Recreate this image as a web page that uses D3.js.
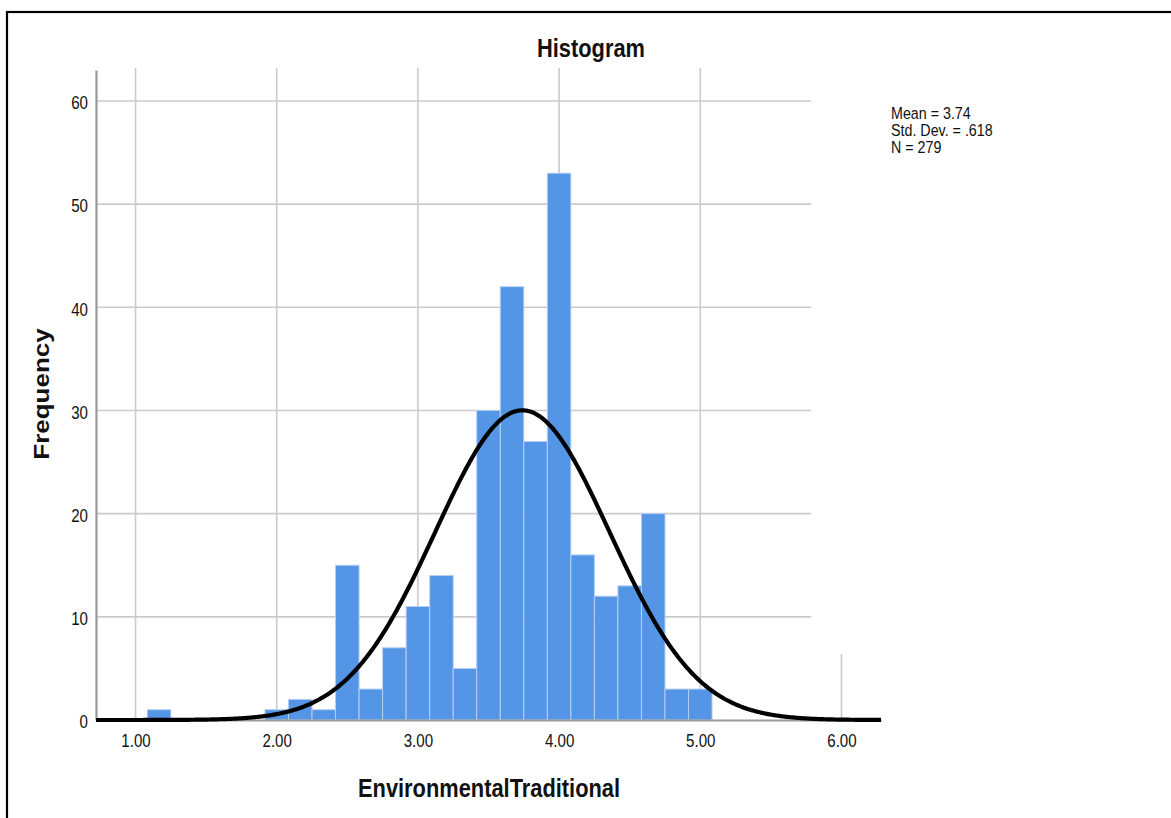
<!DOCTYPE html>
<html>
<head>
<meta charset="utf-8">
<script src="https://d3js.org/d3.v7.min.js"></script>
<title>Histogram</title>
<style>
  body { margin: 0; background: #fff; }
  svg text { font-family: "Liberation Sans", Arial, sans-serif; fill: #111; }
</style>
</head>
<body>
<div id="chart"></div>
<script>
// bin centres (bin width 1/6) and frequencies
var binMids = [1.1667, 2.0, 2.1667, 2.3333, 2.5, 2.6667, 2.8333, 3.0, 3.1667, 3.3333,
               3.5, 3.6667, 3.8333, 4.0, 4.1667, 4.3333, 4.5, 4.6667, 4.8333, 5.0];
var counts  = [1, 1, 2, 1, 15, 3, 7, 11, 14, 5,
               30, 42, 27, 53, 16, 12, 13, 20, 3, 3];
var binWidth = 1 / 6;

// summary stats shown in the legend
var statMean = 3.74, statSd = 0.618, statN = 279;
var statLines = ["Mean = 3.74", "Std. Dev. = .618", "N = 279"];

var xTicks = [1, 2, 3, 4, 5, 6];
var yTicks = [0, 10, 20, 30, 40, 50, 60];

var W = 1171, H = 818;
var sx = 0.84; // the source picture is squeezed sideways a bit

var svg = d3.select("#chart").append("svg")
  .attr("width", W)
  .attr("height", H);

// outer frame
svg.append("rect")
  .attr("x", 7).attr("y", 12)
  .attr("width", 1300).attr("height", 1000)
  .attr("fill", "none")
  .attr("stroke", "#000")
  .attr("stroke-width", 2.2);

// scales
var x = d3.scaleLinear().domain([0.72, 6.28]).range([96, 881]);
var y = d3.scaleLinear().domain([0, 63]).range([720, 70]);

// grid
var grid = svg.append("g");
grid.selectAll(".hg")
  .data(yTicks.filter(function(d) { return d > 0; }))
  .enter().append("line")
  .attr("x1", x(0.72)).attr("x2", x(5.785))
  .attr("y1", function(d) { return y(d); })
  .attr("y2", function(d) { return y(d); })
  .attr("stroke", "#cbcbcb").attr("stroke-width", 1.6);

grid.selectAll(".vg")
  .data(xTicks)
  .enter().append("line")
  .attr("x1", function(d) { return x(d); })
  .attr("x2", function(d) { return x(d); })
  .attr("y1", function(d) { return d == 6 ? y(6.4) : y(63.2); })
  .attr("y2", y(0))
  .attr("stroke", "#cbcbcb").attr("stroke-width", 1.6);

// bars
svg.append("g").selectAll("rect")
  .data(binMids)
  .enter().append("rect")
  .attr("x", function(d) { return x(d - binWidth / 2); })
  .attr("width", function(d) { return x(d + binWidth / 2) - x(d - binWidth / 2); })
  .attr("y", function(d, i) { return y(counts[i]); })
  .attr("height", function(d, i) { return y(0) - y(counts[i]); })
  .attr("fill", "#5595e5")
  .attr("stroke", "#b4d0f3")
  .attr("stroke-width", 1);

// axes
var xAxis = svg.append("g")
  .attr("transform", "translate(0," + y(0) + ")")
  .call(d3.axisBottom(x).tickValues(xTicks).tickFormat(d3.format(".2f")).tickSize(0).tickSizeOuter(0));
xAxis.select(".domain").attr("stroke", "#9a9a9a").attr("stroke-width", 2);
xAxis.selectAll("text")
  .attr("y", 0).attr("dy", 0)
  .attr("transform", "translate(0,27) scale(" + sx + ",1)")
  .style("font-size", "18px");

var yAxis = svg.append("g")
  .attr("transform", "translate(" + x(0.72) + ",0)")
  .call(d3.axisLeft(y).tickValues(yTicks).tickSize(0).tickSizeOuter(0));
yAxis.select(".domain").attr("stroke", "#9a9a9a").attr("stroke-width", 2.2);
yAxis.selectAll("text")
  .attr("x", 0).attr("dy", "0.43em")
  .attr("transform", "translate(-8,0) scale(" + sx + ",1)")
  .style("font-size", "18px");
svg.selectAll(".tick text").attr("fill", "#222").style("font-family", "'Liberation Sans', Arial, sans-serif");

// fitted normal curve
var curveXs = d3.range(0.72, 6.2801, 0.01);
var line = d3.line()
  .x(function(d) { return x(d); })
  .y(function(d) {
    var z = (d - statMean) / statSd;
    return y(statN * binWidth * Math.exp(-0.5 * z * z) / (statSd * Math.sqrt(2 * Math.PI)));
  })
  .curve(d3.curveBasis);
svg.append("path")
  .datum(curveXs)
  .attr("d", line)
  .attr("fill", "none")
  .attr("stroke", "#000")
  .attr("stroke-width", 4.2);

// title + axis labels
svg.append("text")
  .attr("transform", "translate(591,57) scale(" + sx + ",1)")
  .attr("text-anchor", "middle")
  .style("font-size", "26px").style("font-weight", "bold")
  .text("Histogram");

svg.append("text")
  .attr("transform", "translate(489,797) scale(" + sx + ",1)")
  .attr("text-anchor", "middle")
  .style("font-size", "26px").style("font-weight", "bold")
  .text("EnvironmentalTraditional");

svg.append("text")
  .attr("transform", "translate(49,394) rotate(-90) scale(1," + sx + ")")
  .attr("text-anchor", "middle")
  .style("font-size", "26px").style("font-weight", "bold")
  .text("Frequency");

// stats box
svg.append("g").selectAll("text")
  .data(statLines)
  .enter().append("text")
  .attr("transform", function(d, i) { return "translate(891," + (119 + i * 17) + ") scale(" + sx + ",1)"; })
  .style("font-size", "17px")
  .text(function(d) { return d; });
</script>
</body>
</html>
